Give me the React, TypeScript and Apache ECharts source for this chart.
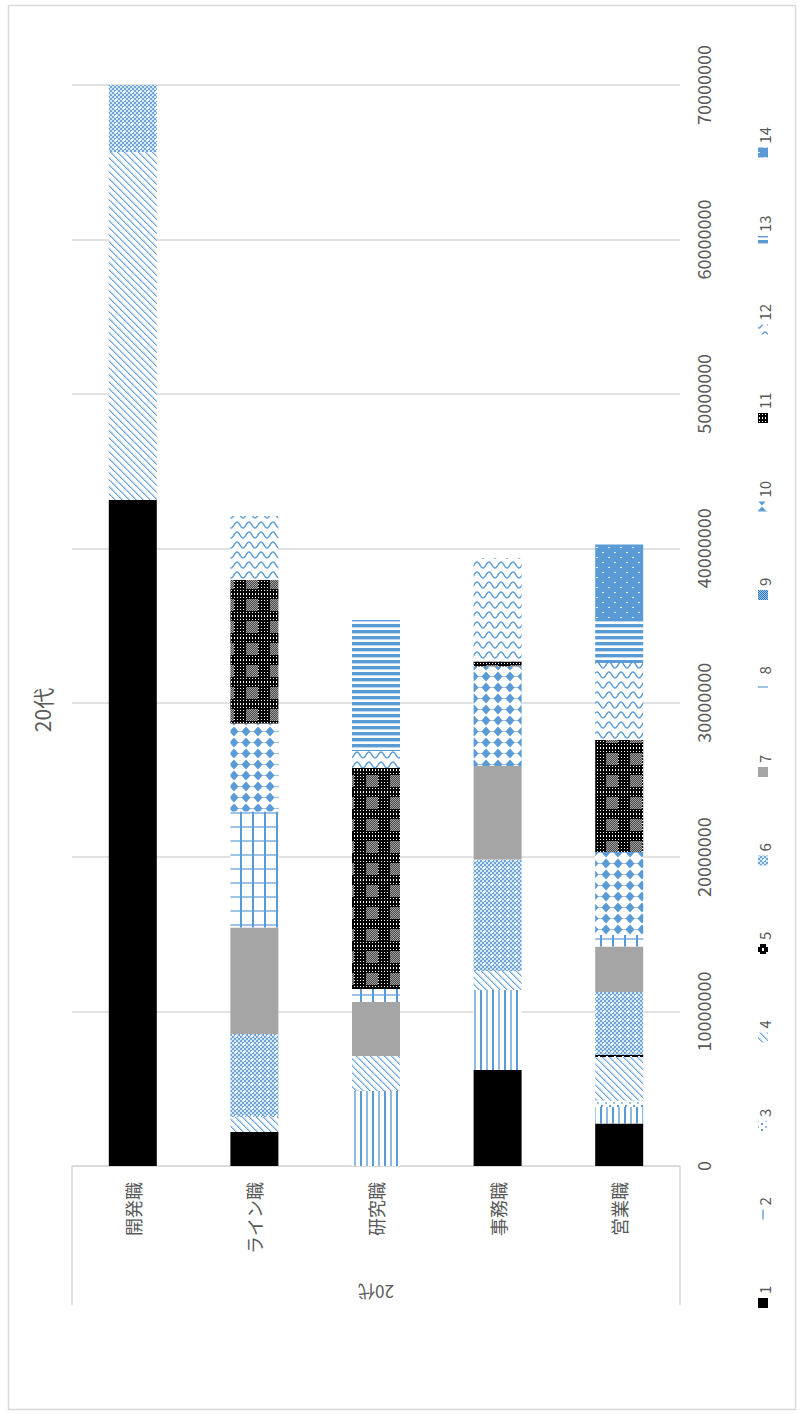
import { useEffect, useRef } from 'react';
import * as echarts from 'echarts';

// Job categories (left to right) and the single age group
const categories = ['開発職', 'ライン職', '研究職', '事務職', '営業職'];
const ageGroup = ['20代'];
const chartTitle = '20代';

// Series names 1..14, values per job category (same order as categories)
const seriesNames = ['1', '2', '3', '4', '5', '6', '7', '8', '9', '10', '11', '12', '13', '14'];
const s1 = [43130000, 2200000, 0, 6220000, 2750000];
const s2 = [0, 0, 4860000, 5180000, 1070000];
const s3 = [0, 0, 0, 0, 420000];
const s4 = [22530000, 970000, 2260000, 1230000, 2820000];
const s5 = [0, 0, 0, 0, 130000];
const s6 = [4340000, 5380000, 0, 7220000, 4080000];
const s7 = [0, 6890000, 3500000, 6050000, 2940000];
const s8 = [0, 7520000, 840000, 0, 750000];
const s9 = [0, 0, 0, 0, 0];
const s10 = [0, 5690000, 0, 6440000, 5370000];
const s11 = [0, 9300000, 14310000, 330000, 7260000];
const s12 = [0, 4140000, 1100000, 6700000, 4980000];
const s13 = [0, 0, 8490000, 130000, 2850000];
const s14 = [0, 0, 0, 0, 4820000];
const seriesValues = [s1, s2, s3, s4, s5, s6, s7, s8, s9, s10, s11, s12, s13, s14];

// Value axis range
const valueMin = 0;
const valueMax = 70000000;
const valueStep = 10000000;

const FONT = "'Noto Sans CJK JP', 'Noto Sans', sans-serif";
const TEXT = '#595959';
const LINE = '#d9d9d9';
const BLUE = '#5b9bd5';
const LBLUE = '#9dc3e6';

type Draw = (ctx: CanvasRenderingContext2D, w: number, h: number) => void;

function tile(w: number, h: number, draw: Draw) {
  const c = document.createElement('canvas');
  c.width = w;
  c.height = h;
  const ctx = c.getContext('2d') as CanvasRenderingContext2D;
  draw(ctx, w, h);
  return { image: c, repeat: 'repeat', imageWidth: w, imageHeight: h };
}

function px(ctx: CanvasRenderingContext2D, color: string, x: number, y: number, w = 1, h = 1) {
  ctx.fillStyle = color;
  ctx.fillRect(x, y, w, h);
}

// Fill styles for the 14 series (solid colours and Excel-like hatch patterns)
function buildFills(): any[] {
  const white = (ctx: CanvasRenderingContext2D, w: number, h: number) => px(ctx, '#ffffff', 0, 0, w, h);

  const vertLines = tile(12, 2, (ctx, w, h) => {
    white(ctx, w, h);
    px(ctx, BLUE, 0, 0, 2, h);
    px(ctx, '#8fbbe3', 6, 0, 2, h);
  });
  const confetti = tile(8, 6, (ctx, w, h) => {
    white(ctx, w, h);
    px(ctx, BLUE, 1, 1, 2, 2);
    px(ctx, LBLUE, 5, 4, 2, 2);
  });
  const diagonal = tile(7, 7, (ctx, w, h) => {
    white(ctx, w, h);
    for (let y = 0; y < h; y++) {
      for (let x = 0; x < w; x++) {
        const d = (x - y + 14) % 7;
        if (d === 0) px(ctx, (x + y) % 2 === 0 ? '#6fa6da' : '#8ab8e2', x, y);
        else if (d === 1) px(ctx, '#b7d3ee', x, y);
        else if (d === 2) px(ctx, '#e3eef9', x, y);
      }
    }
  });
  const blackDash = tile(8, 8, (ctx, w, h) => {
    px(ctx, '#000000', 0, 0, w, h);
    px(ctx, '#ffffff', 6, 0, 2, 3);
    px(ctx, '#ffffff', 2, 4, 2, 3);
  });
  const smallCheck = tile(8, 8, (ctx, w, h) => {
    for (let y = 0; y < h; y++) {
      for (let x = 0; x < w; x++) {
        const on = ((x >> 1) + (y >> 1)) % 2 === 0;
        px(ctx, on ? '#6fa6da' : '#d6e6f5', x, y);
      }
    }
    px(ctx, '#ffffff', 3, 3, 2, 2);
  });
  const grid = tile(12, 14, (ctx, w, h) => {
    white(ctx, w, h);
    px(ctx, LBLUE, 0, 0, w, 2);
    px(ctx, BLUE, 0, 0, 2, h);
  });
  const darkCheck = tile(4, 4, (ctx, w, h) => {
    for (let y = 0; y < h; y++) {
      for (let x = 0; x < w; x++) px(ctx, (x + y) % 2 === 0 ? '#2e75b6' : LBLUE, x, y);
    }
  });
  const diamonds = tile(12, 11, (ctx, w, h) => {
    white(ctx, w, h);
    px(ctx, LBLUE, 0, 5, w, 1);
    ctx.fillStyle = BLUE;
    ctx.beginPath();
    ctx.moveTo(6, 0.5);
    ctx.lineTo(10.5, 5.5);
    ctx.lineTo(6, 10.5);
    ctx.lineTo(1.5, 5.5);
    ctx.closePath();
    ctx.fill();
  });
  const blackCheck = tile(24, 22, (ctx, w, h) => {
    px(ctx, '#000000', 0, 0, w, h);
    for (let y = 0; y < h; y++) {
      for (let x = 0; x < w; x++) {
        const inner = x >= 6 && x < 18 && y >= 5 && y < 17;
        if (inner) {
          px(ctx, (x + y) % 2 === 0 ? '#a0a0a0' : '#4a4a4a', x, y);
        } else if (x % 3 === 0 && y % 3 === 0) {
          px(ctx, '#ffffff', x, y);
        }
      }
    }
  });
  const waves = tile(12, 10, (ctx, w, h) => {
    white(ctx, w, h);
    ctx.strokeStyle = BLUE;
    ctx.lineWidth = 1.4;
    ctx.beginPath();
    for (let x = -1; x <= w + 1; x += 0.5) {
      const y = 5 + 3 * Math.sin((2 * Math.PI * x) / w);
      if (x === -1) ctx.moveTo(x, y);
      else ctx.lineTo(x, y);
    }
    ctx.stroke();
  });
  const horizLines = tile(2, 6, (ctx, w, h) => {
    white(ctx, w, h);
    px(ctx, BLUE, 0, 0, w, 3);
    px(ctx, '#bdd7ee', 0, 3, w, 1);
  });
  const blueDots = tile(12, 10, (ctx, w, h) => {
    px(ctx, BLUE, 0, 0, w, h);
    px(ctx, '#e6f0fa', 2, 2, 2, 1);
    px(ctx, '#e6f0fa', 8, 7, 2, 1);
  });

  return [
    '#000000',
    vertLines,
    confetti,
    diagonal,
    blackDash,
    smallCheck,
    '#a5a5a5',
    grid,
    darkCheck,
    diamonds,
    blackCheck,
    waves,
    horizLines,
    blueDots,
  ];
}

export default function App() {
  const ref = useRef<HTMLDivElement>(null);

  useEffect(() => {
    if (!ref.current) return;
    const chart = echarts.init(ref.current, undefined, { renderer: 'svg' });
    const fills = buildFills();

    // Legend drawn along the right edge, reading bottom-to-top
    const legendItems: any[] = [];
    seriesNames.forEach((name, i) => {
      const yc = 1303 - i * 88.5;
      legendItems.push({
        type: 'rect',
        shape: { x: 758, y: yc - 5, width: 10, height: 10 },
        style: { fill: fills[i] },
        silent: true,
      });
      legendItems.push({
        type: 'text',
        x: 764,
        y: yc - 9,
        rotation: Math.PI / 2,
        style: {
          text: name,
          fontSize: 15,
          fontFamily: FONT,
          fill: TEXT,
          align: 'left',
          verticalAlign: 'middle',
        },
        silent: true,
      });
    });

    const option: any = {
      animation: false,
      backgroundColor: '#ffffff',
      grid: { left: 72, right: 123, top: 85, bottom: 248, containLabel: false },
      xAxis: [
        {
          type: 'category',
          data: categories,
          position: 'bottom',
          axisLine: { show: true, lineStyle: { color: LINE, width: 1.5 } },
          axisTick: { show: false },
          axisLabel: { rotate: 90, margin: 16, fontSize: 18, color: TEXT, fontFamily: FONT },
        },
        {
          type: 'category',
          data: ageGroup,
          position: 'bottom',
          axisLine: { show: false },
          axisTick: { show: true, length: 139, lineStyle: { color: LINE, width: 1.5 } },
          axisLabel: { rotate: 180, margin: 118, fontSize: 17, color: TEXT, fontFamily: FONT },
          splitLine: { show: false },
        },
      ],
      yAxis: {
        type: 'value',
        position: 'right',
        min: valueMin,
        max: valueMax,
        interval: valueStep,
        axisLine: { show: false },
        axisTick: { show: false },
        splitLine: { lineStyle: { color: LINE, width: 1.5 } },
        axisLabel: {
          rotate: 90,
          margin: 14,
          fontSize: 18,
          color: TEXT,
          fontFamily: FONT,
          formatter: (v: number) => String(v),
        },
      },
      series: seriesNames.map((name, i) => ({
        name,
        type: 'bar',
        stack: 'total',
        xAxisIndex: 0,
        barWidth: 48,
        data: seriesValues[i],
        itemStyle: { color: fills[i] },
        emphasis: { disabled: true },
      })),
      graphic: [
        {
          type: 'rect',
          shape: { x: 8.5, y: 5.5, width: 787, height: 1404 },
          style: { fill: 'none', stroke: LINE, lineWidth: 1.5 },
          silent: true,
          z: -1,
        },
        {
          type: 'text',
          x: 42,
          y: 710,
          rotation: Math.PI / 2,
          style: {
            text: chartTitle,
            fontSize: 21,
            fontFamily: FONT,
            fill: TEXT,
            align: 'center',
            verticalAlign: 'middle',
          },
          silent: true,
        },
        ...legendItems,
      ],
    };

    chart.setOption(option);
    return () => chart.dispose();
  }, []);

  return (
    <div
      ref={ref}
      style={{ position: 'absolute', left: 0, top: 0, width: 803, height: 1414 }}
    />
  );
}
